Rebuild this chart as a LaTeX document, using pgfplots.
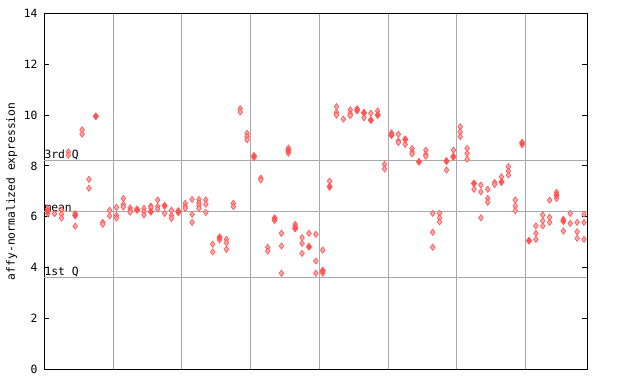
\documentclass[border=0pt]{standalone}
\usepackage{pgfplots}
\pgfplotsset{compat=1.18}
\usepackage{fontspec}
\newfontfamily\pix{DejaVu Sans Mono}
\definecolor{redm}{HTML}{FF5555}
\definecolor{gridg}{HTML}{A8A8A8}
\begin{document}
\begin{tikzpicture}
\useasboundingbox (-33.2pt,-11pt) rectangle (446.8pt,277pt);
\begin{axis}[
  at={(0,0)}, anchor=south west, scale only axis,
  width=407.4pt, height=267pt,
  xmin=-0.5, xmax=78.5, ymin=0, ymax=14,
  ytick={0,2,...,14},
  xtick={9.5,19.5,...,69.5}, xticklabels={},
  xmajorgrids, major x grid style={color=gridg, line width=0.75pt},
  x tick style={draw=none},
  y tick style={black, line width=0.75pt},
  tick align=inside, major tick length=3.75pt,
  yticklabel pos=left,
  yticklabel style={xshift=-1.5pt},
  axis line style={black, line width=0.75pt},
  tick label style={font=\pix\fontsize{8.5}{10}\selectfont},
  /pgf/number format/assume math mode=true,
  ylabel={affy-normalized expression},
  y label style={at={(axis description cs:-0.06,0.5)}, anchor=center, font=\pix\fontsize{8.5}{10}\selectfont},
  clip=false,
]
\addplot[gridg, line width=0.75pt, forget plot] coordinates {(-0.5,8.22) (78.5,8.22)};
\addplot[gridg, line width=0.75pt, forget plot] coordinates {(-0.5,6.20) (78.5,6.20)};
\addplot[gridg, line width=0.75pt, forget plot] coordinates {(-0.5,3.62) (78.5,3.62)};
\node[anchor=south west, inner sep=0pt, font=\pix\fontsize{8.5}{10}\selectfont] at (axis cs:-0.5,8.22) {3rd Q};
\node[anchor=south west, inner sep=0pt, font=\pix\fontsize{8.5}{10}\selectfont] at (axis cs:-0.5,6.20) {mean};
\node[anchor=south west, inner sep=0pt, font=\pix\fontsize{8.5}{10}\selectfont] at (axis cs:-0.5,3.62) {1st Q};
% checkered (light) markers
\addplot[only marks, mark=diamond*, mark size=2.3pt, mark options={draw=redm, fill=redm!50!white, line width=0.5pt}] coordinates {
(0,6.32) (0,6.12) (1,6.12) (2,6.27) (2,6.1) (2,5.95) (3,8.55) (3,8.42) (4,6.12) (4,5.63)
(5,9.42) (5,9.25) (6,7.47) (6,7.12) (8,5.78) (8,5.7) (9,6.26) (9,6.03)
(10,6.37) (10,6.05) (10,5.95) (11,6.72) (11,6.48) (11,6.38) (12,6.35) (12,6.25) (12,6.18)
(13,6.25) (14,6.33) (14,6.2) (14,6.07) (15,6.42) (15,6.35) (16,6.66) (16,6.4) (16,6.3)
(17,6.13) (18,6.26) (18,6.05) (18,5.94) (19,6.16)
(20,6.53) (20,6.4) (20,6.33) (21,6.68) (21,6.09) (21,5.78) (22,6.68) (22,6.55) (22,6.45) (22,6.33)
(23,6.66) (23,6.49) (23,6.17) (24,4.92) (24,4.62) (25,5.09) (26,5.11) (26,4.98) (26,4.72)
(27,6.53) (27,6.4) (28,10.25) (28,10.12) (29,9.28) (29,9.15) (29,9.03)
(30,8.32) (31,7.52) (31,7.45) (32,4.8) (32,4.65) (33,5.85) (34,5.35) (34,4.85) (34,3.78)
(35,8.7) (35,8.5) (36,5.7) (36,5.62) (37,5.18) (37,4.95) (37,4.56) (38,5.35) (39,5.31) (39,4.26) (39,3.78)
(40,4.69) (40,3.78) (41,7.40) (42,10.33) (42,10.1) (42,10.0) (43,9.84) (44,10.2) (44,10.05) (44,9.98)
(45,10.25) (46,9.89) (47,10.07) (48,10.16) (49,8.06) (49,7.88)
(50,9.3) (51,9.24) (51,8.98) (51,8.92) (52,8.85) (53,8.68) (53,8.55) (53,8.47) (55,8.62) (55,8.45) (55,8.38)
(56,6.13) (56,5.39) (56,4.80) (57,6.13) (57,5.96) (57,5.80) (58,7.84) (59,8.62)
(60,9.54) (60,9.34) (60,9.15) (61,8.69) (61,8.49) (61,8.26) (62,7.08) (63,7.25) (63,6.98) (63,5.96)
(64,7.08) (64,6.72) (64,6.57) (65,7.35) (65,7.27) (66,7.57) (67,7.97) (67,7.8) (67,7.64)
(68,6.66) (68,6.42) (68,6.24) (69,8.83)
(71,5.64) (71,5.35) (71,5.11) (72,6.07) (72,5.84) (72,5.64) (73,6.65) (73,5.98) (73,5.78)
(74,6.96) (74,6.72) (75,5.90) (75,5.44) (76,6.13) (76,5.74) (77,5.78) (77,5.41) (77,5.15)
(78,6.1) (78,5.78) (78,5.11)
};
% solid markers
\addplot[only marks, mark=diamond*, mark size=2.7pt, mark options={draw=redm, fill=redm}] coordinates {
(0,6.22) (4,6.05) (7,9.95) (13,6.29) (15,6.2) (17,6.43) (19,6.22) (25,5.19)
(30,8.39) (33,5.94) (35,8.6) (36,5.54) (38,4.82) (40,3.88) (41,7.18) (45,10.18)
(46,10.09) (47,9.8) (48,10.0) (50,9.21) (52,9.04) (54,8.16) (58,8.19) (59,8.36)
(62,7.31) (66,7.37) (69,8.91) (70,5.06) (74,6.85) (75,5.83)
};
\end{axis}
\end{tikzpicture}
\end{document}
